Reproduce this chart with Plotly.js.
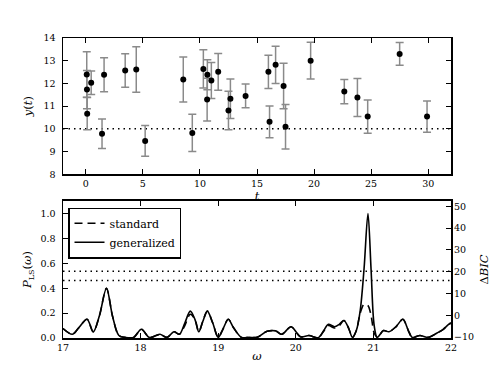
<!DOCTYPE html>
<html>
<head>
<meta charset="utf-8">
<script src="https://cdn.plot.ly/plotly-3.0.1.min.js"></script>
<style>html,body{margin:0;padding:0;background:#fff;}#chart{width:500px;height:375px;}</style>
</head>
<body>
<div id="chart"></div>
<script>
// ---- top panel: time series y(t) with errors ----
const tObs = [0.08, 0.10, 0.12, 0.47, 1.42, 1.60, 3.45, 4.42, 5.20, 8.54, 9.33, 10.30, 10.65, 10.63, 11.00, 11.60, 12.50, 12.67, 14.00, 16.00, 16.10, 16.63, 17.33, 17.50, 19.70, 22.65, 23.80, 24.70, 27.50, 29.90];
const yObs = [12.39, 11.73, 10.67, 12.03, 9.78, 12.38, 12.57, 12.61, 9.47, 12.17, 9.82, 12.64, 12.38, 11.29, 12.13, 12.51, 10.81, 11.33, 11.45, 12.51, 10.31, 12.82, 11.89, 10.09, 13.00, 11.64, 11.38, 10.54, 13.30, 10.54];
const yErr = [1.00, 0.84, 0.71, 0.52, 0.65, 0.75, 0.74, 1.00, 0.68, 0.99, 0.82, 0.84, 0.66, 0.94, 0.79, 0.81, 0.85, 0.87, 0.52, 0.73, 0.70, 0.82, 1.00, 0.98, 0.81, 0.53, 0.84, 0.73, 0.50, 0.69];
const yMeanLevel = 10;
const tSpan = [-2, 32];

// ---- bottom panel: periodograms ----
const omega = [17.0, 17.12, 17.2, 17.31, 17.39, 17.47, 17.56, 17.64, 17.72, 17.8, 17.91, 18.01, 18.11, 18.2, 18.25, 18.34, 18.43, 18.5, 18.57, 18.64, 18.7, 18.75, 18.8, 18.86, 18.93, 19.0, 19.06, 19.13, 19.2, 19.3, 19.4, 19.5, 19.63, 19.74, 19.82, 19.94, 20.06, 20.17, 20.29, 20.36, 20.42, 20.5, 20.56, 20.62, 20.68, 20.73, 20.78, 20.83, 20.88, 20.93, 20.97, 21.01, 21.05, 21.13, 21.2, 21.29, 21.38, 21.45, 21.5, 21.6, 21.71, 21.82, 21.9, 21.97, 22.0];
const pGeneralized = [0.076, 0.03, 0.08, 0.151, 0.049, 0.18, 0.40, 0.17, 0.02, 0.005, 0.005, 0.07, 0.005, 0.02, 0.03, 0.005, 0.05, 0.03, 0.12, 0.216, 0.15, 0.05, 0.13, 0.216, 0.12, 0.005, 0.07, 0.15, 0.08, 0.005, 0.005, 0.005, 0.054, 0.057, 0.03, 0.09, 0.01, 0.02, 0.003, 0.06, 0.11, 0.09, 0.11, 0.14, 0.08, 0.005, 0.06, 0.22, 0.56, 1.0, 0.55, 0.1, 0.005, 0.06, 0.05, 0.09, 0.15, 0.06, 0.005, 0.02, 0.005, 0.04, 0.07, 0.11, 0.12];
const pStandard = [0.076, 0.03, 0.08, 0.151, 0.049, 0.18, 0.40, 0.17, 0.02, 0.005, 0.005, 0.07, 0.005, 0.02, 0.03, 0.005, 0.05, 0.03, 0.10, 0.19, 0.15, 0.05, 0.13, 0.216, 0.12, 0.005, 0.07, 0.15, 0.08, 0.005, 0.005, 0.005, 0.054, 0.057, 0.03, 0.09, 0.01, 0.02, 0.003, 0.055, 0.10, 0.08, 0.10, 0.14, 0.08, 0.005, 0.06, 0.20, 0.27, 0.26, 0.18, 0.04, 0.005, 0.06, 0.05, 0.09, 0.15, 0.06, 0.005, 0.02, 0.005, 0.04, 0.07, 0.11, 0.12];
const dBicThresholds = [20.2, 15.9];
const omegaSpan = [17, 22];

const serif = 'DejaVu Serif';
const tickFont = {family: serif, size: 9.5, color: '#000'};
const titleFont = {family: serif, size: 11.5, color: '#000'};

const traces = [
  {x: tSpan, y: [yMeanLevel, yMeanLevel], xaxis: 'x', yaxis: 'y', mode: 'lines',
   line: {color: '#000', width: 1.5, dash: '1.5px,4px'}, showlegend: false, hoverinfo: 'skip'},
  {x: tObs, y: yObs, xaxis: 'x', yaxis: 'y', mode: 'markers', type: 'scatter',
   marker: {color: '#000', size: 6},
   error_y: {type: 'data', array: yErr, visible: true, color: '#8a8a8a', thickness: 1.5, width: 4},
   showlegend: false},
  {x: omegaSpan, y: [dBicThresholds[0], dBicThresholds[0]], xaxis: 'x2', yaxis: 'y3', mode: 'lines',
   line: {color: '#000', width: 1.5, dash: '1.5px,4px'}, showlegend: false, hoverinfo: 'skip'},
  {x: omegaSpan, y: [dBicThresholds[1], dBicThresholds[1]], xaxis: 'x2', yaxis: 'y3', mode: 'lines',
   line: {color: '#000', width: 1.5, dash: '1.5px,4px'}, showlegend: false, hoverinfo: 'skip'},
  {x: omega, y: pStandard, xaxis: 'x2', yaxis: 'y2', mode: 'lines', name: 'standard',
   line: {color: '#000', width: 1.6, dash: '8px,5px', shape: 'spline', smoothing: 0.9}},
  {x: omega, y: pGeneralized, xaxis: 'x2', yaxis: 'y2', mode: 'lines', name: 'generalized',
   line: {color: '#000', width: 1.6, shape: 'spline', smoothing: 0.9}}
];

const axBase = {
  showline: true, linecolor: '#000', linewidth: 1.5, ticks: 'inside', ticklen: 5, tickwidth: 1,
  tickcolor: '#000', showgrid: false, zeroline: false, tickfont: tickFont
};

const layout = {
  width: 500, height: 375,
  margin: {l: 63, r: 49.3, t: 37.7, b: 37.3},
  paper_bgcolor: '#fff', plot_bgcolor: '#fff',
  font: {family: serif, color: '#000'},
  xaxis: Object.assign({}, axBase, {domain: [0, 1], anchor: 'y', range: tSpan, tick0: 0, dtick: 5,
    mirror: 'ticks', title: {text: '<i>t</i>', font: titleFont, standoff: 0}}),
  yaxis: Object.assign({}, axBase, {domain: [0.5457, 1], anchor: 'x', range: [8, 14], dtick: 1,
    mirror: 'ticks', ticklabelstandoff: 4, title: {text: '<i>y</i>(<i>t</i>)', font: titleFont, standoff: 8}}),
  xaxis2: Object.assign({}, axBase, {domain: [0, 1], anchor: 'y2', range: omegaSpan, dtick: 1,
    mirror: 'ticks', title: {text: '<i>ω</i>', font: titleFont, standoff: 0}}),
  yaxis2: Object.assign({}, axBase, {domain: [0, 0.4567], anchor: 'x2', range: [0, 1.1], dtick: 0.2,
    tickformat: '.1f', mirror: true, ticklabelstandoff: 4,
    title: {text: '<i>P</i><sub>LS</sub>(<i>ω</i>)', font: titleFont, standoff: 6}}),
  yaxis3: Object.assign({}, axBase, {overlaying: 'y2', anchor: 'x2', side: 'right', range: [-10.46, 52.4],
    dtick: 10, showline: false, ticklabelstandoff: 2,
    title: {text: 'Δ<i>BIC</i>', font: titleFont, standoff: 6}}),
  showlegend: true,
  legend: {x: 0.0137, y: 0.4347, xanchor: 'left', yanchor: 'top', bgcolor: '#fff',
    bordercolor: '#000', borderwidth: 1.2, font: {family: serif, size: 11, color: '#000'},
    tracegroupgap: 0}
};

Plotly.newPlot('chart', traces, layout, {displayModeBar: false, staticPlot: true});
</script>
</body>
</html>
